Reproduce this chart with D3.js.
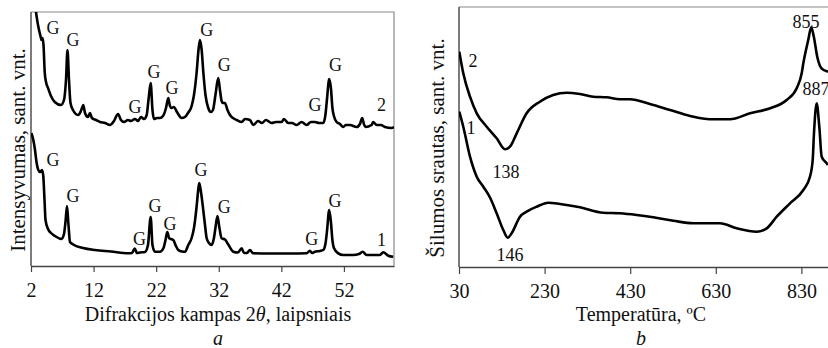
<!DOCTYPE html>
<html><head><meta charset="utf-8">
<script src="https://cdn.jsdelivr.net/npm/d3@7"></script>
<style>
body{margin:0;background:#fff;}
text{font-family:"Liberation Serif","Times New Roman",serif;fill:#111;}
</style></head>
<body><svg id="c" width="828" height="348"></svg>
<script>
// ---- Panel a: XRD (2θ, intensity a.u.) ----
const xrdTicks = [2,12,22,32,42,52];
const xrd2Angle = [2.64,3.12,3.55,3.68,3.84,4.0,4.19,4.4,4.72,5.19,5.79,6.79,7.27,7.59,7.83,8.07,8.31,8.71,9.51,9.83,10.15,10.35,10.63,11.1,11.42,11.74,12.38,13.02,13.82,14.62,15.26,15.9,16.38,16.86,17.5,17.97,18.61,19.1,19.57,20.05,20.48,20.77,21.12,21.41,21.65,22.13,22.6,23.09,23.57,23.93,24.2,24.47,24.84,25.32,26.07,26.6,27.08,27.67,28.04,28.47,28.76,29.0,29.27,29.53,29.88,30.32,30.75,31.07,31.47,31.92,32.19,32.46,32.67,32.99,33.39,33.79,34.27,34.86,35.66,36.19,36.98,37.51,38.26,38.9,39.54,40.45,41.14,42.05,42.42,43.1,43.69,44.44,45.24,46.04,46.73,47.37,48.01,48.69,49.04,49.28,49.65,49.92,50.16,50.4,50.83,51.36,51.89,52.32,52.96,54.03,54.56,54.92,55.19,55.43,56.42,56.68,57.22,57.91,58.55,59.62,60.0];
const xrd2Int = [261,241,229,226,228,221,194,184,178,170,164,161,166,186,216,186,163,156,151,153,158,161,153,149,153,148,146,144,143,141,145,152,146,144,146,145,147,145,149,147,151,166,183,156,147,148,148,150,158,168,160,158,159,154,148,149,153,160,171,194,216,226,216,194,171,158,154,156,171,188,176,165,163,163,156,151,148,146,144,147,146,141,145,143,146,143,144,144,147,143,143,141,144,141,144,144,143,143,151,166,187,178,158,150,144,142,139,141,141,139,142,148,142,139,141,144,141,141,139,138,139];
const xrd1Angle = [2.08,2.37,2.64,2.88,3.17,3.44,3.76,3.96,4.16,4.32,4.72,5.19,5.83,6.87,7.27,7.51,7.75,7.99,8.23,8.87,10.31,12.22,14.78,17.5,18.13,18.57,18.93,19.41,20.21,20.69,21.12,21.41,21.81,22.6,23.17,23.49,23.77,24.09,24.36,24.73,25.16,25.53,26.12,26.6,27.13,27.67,28.04,28.47,28.68,28.88,29.16,29.43,29.8,30.07,30.43,30.87,31.23,31.47,31.79,32.11,32.46,32.99,33.47,34.32,35.07,35.66,36.03,36.51,36.98,37.51,40.18,43.37,46.04,46.57,46.89,47.37,48.17,48.69,49.04,49.28,49.65,49.92,50.16,50.4,51.09,51.89,53.49,54.4,54.99,55.63,56.95,57.75,58.28,59.08,59.88];
const xrd1Int = [133,126,116,104,96,94,96,90,66,46,37,33,30,27,32,44,60,41,24,21,18,16,14.5,12.7,13,17.5,13,13.5,14,21,49,21,14.3,14.3,18,26,34,27.7,27,26,20,16,14.5,14.3,21,28,38,60,74,83,74,61,41,27.7,23,21,28,38,50,38,27.7,26.5,22,14.3,13.5,17.7,13,13,16,12.7,12.5,12.5,12.7,15.3,13,14.3,15,16,22,34,56,44,26,18,12.7,11,11,12,14.3,11,11,11,13.7,10.3,9.3];
const gTopAngle = [5.51,8.71,18.61,21.65,24.52,30.07,32.88,47.37,50.67];
const gTopLevel = [238,226,159,194.3,178.7,236,201,161,201];
const gBotAngle = [5.51,8.71,19.33,21.81,24.2,29.16,32.86,46.84,50.56];
const gBotLevel = [106,70,27.7,60.5,42.3,96,59,27.8,65];
const xrdCurveNames = ["2","1"];
const xrdCurveNameAngle = [58.02,58.02];
const xrdCurveNameLevel = [161,26];

// ---- Panel b: DSC (temperature °C, heat flow a.u.) ----
const dscTicks = [30,230,430,630,830];
const dsc2Temp = [30.7,40,55.7,71.4,94.7,118,137.5,149,164.8,188,219,250,281.6,312.7,343.8,375,406,429.5,476,523,570,616,663,710,757,795.6,819,830.7,834.5,846,853,859,867,877,892];
const dsc2Flow = [215.3,193.7,170.3,153.7,140.3,128.7,117.7,120.3,133.7,153.7,165.3,172,174.3,173,170.3,169.7,167.7,167.7,163,157,151,147.7,147.7,153.7,158.7,167,178.7,193.7,203.7,227,239.7,230.3,210.3,198.7,195.3];
const dsc1Temp = [30.7,40,55.7,71.4,86.8,102.4,118,133.5,143.8,153,172.5,188,211.5,238.6,266,312.7,367,406,445,484,530.7,577.4,639.8,678.8,725.6,749,772.3,803.4,834.5,850,856.4,859.4,865.7,871.8,877.4,889,892];
const dsc1Flow = [155.3,140.3,110.3,90.3,80.3,69.5,53.7,37,29.3,33.7,50.3,55.3,60.3,64.3,63,59.7,54.3,53.7,52,49.7,46.3,43.7,43.7,38.7,35.3,38.7,50.3,63.7,77,90.3,107,133.7,163.7,140.3,110.3,103.7,102];
const dscNotes = ["855","887","138","146","2","1"];
const dscNoteTemp = [840.7,864,139.8,149.2,62.7,58];
const dscNoteFlow = [245,178,95,12,206,139];

const svg = d3.select("#c");
const FONT = 21;

function panel(opt){
  const {x, y, ticks, data, labels, xTitle, letter, yTitle, yTitleX, titleX, id, tickSize, tickPad} = opt;
  const [x0,x1] = x.range(); const [y0,y1] = y.range();
  const g = svg.append("g");
  g.append("clipPath").attr("id",id).append("rect")
    .attr("x",x0).attr("y",y1).attr("width",x1-x0).attr("height",y0-y1);
  g.append("path").attr("d",`M${x0},${y1}H${x1}V${y0}`).attr("fill","none")
    .attr("stroke","#8a8a8a").attr("stroke-width",1.2);
  const ax = g.append("g").attr("transform",`translate(0,${y0})`)
    .call(d3.axisBottom(x).tickValues(ticks).tickSize(tickSize).tickSizeOuter(0).tickPadding(tickPad).tickFormat(d3.format("d")));
  ax.select(".domain").attr("stroke","#444").attr("stroke-width",1.4);
  ax.selectAll(".tick line").attr("stroke","#444").attr("stroke-width",1.2);
  ax.selectAll("text").attr("font-size",20).attr("font-family",null).style("fill","#111");
  g.append("line").attr("x1",x0).attr("x2",x0).attr("y1",y1).attr("y2",y0)
    .attr("stroke","#444").attr("stroke-width",1.4);
  const line = d3.line().x(d=>x(d[0])).y(d=>y(d[1])).curve(d3.curveMonotoneX);
  data.forEach(dd=>{
    g.append("path").attr("d",line(dd)).attr("fill","none").attr("stroke","#000")
      .attr("stroke-width",2.6).attr("stroke-linejoin","round").attr("clip-path",`url(#${id})`);
  });
  labels.forEach(l=>{
    g.append("text").attr("x",x(l[0])).attr("y",y(l[1])).attr("dy","0.35em")
      .attr("text-anchor","middle").attr("font-size",18).text(l[2]);
  });
  const t = g.append("text").attr("x",titleX).attr("y",321).attr("text-anchor","middle").attr("font-size",20);
  xTitle(t);
  g.append("text").attr("x",titleX).attr("y",345).attr("text-anchor","middle").attr("font-size",20)
    .attr("font-style","italic").text(letter);
  g.append("text").attr("transform",`translate(${yTitleX},${(y0+y1)/2+opt.yShift}) rotate(-90)`)
    .attr("dy","0.35em").attr("text-anchor","middle").attr("font-size",FONT).text(yTitle);
}

const xL = d3.scaleLinear().domain([2,60]).range([31,394]);
const yL = d3.scaleLinear().domain([0,254]).range([266,12]);
panel({
  id:"clipA", x:xL, y:yL, ticks:xrdTicks, tickSize:6, tickPad:11,
  data:[d3.zip(xrd2Angle,xrd2Int), d3.zip(xrd1Angle,xrd1Int)],
  labels:[...gTopAngle.map((a,i)=>[a,gTopLevel[i],"G"]),
          ...gBotAngle.map((a,i)=>[a,gBotLevel[i],"G"]),
          ...xrdCurveNames.map((n,i)=>[xrdCurveNameAngle[i],xrdCurveNameLevel[i],n])],
  xTitle:t=>{t.append("tspan").text("Difrakcijos kampas 2");t.append("tspan").attr("font-style","italic").text("θ");t.append("tspan").text(", laipsniais");},
  letter:"a", titleX:218, yTitle:"Intensyvumas, sant. vnt.", yTitleX:18, yShift:11
});

const xR = d3.scaleLinear().domain([30,930]).range([459,459+900*0.428]);
const yR = d3.scaleLinear().domain([0,260]).range([267,7]);
panel({
  id:"clipB", x:xR, y:yR, ticks:dscTicks, tickSize:7, tickPad:10,
  data:[d3.zip(dsc2Temp,dsc2Flow), d3.zip(dsc1Temp,dsc1Flow)],
  labels:dscNotes.map((n,i)=>[dscNoteTemp[i],dscNoteFlow[i],n]),
  xTitle:t=>t.text("Temperatūra, ºC"),
  letter:"b", titleX:641, yTitle:"Šilumos srautas, sant. vnt.", yTitleX:437, yShift:11
});
</script></body></html>
